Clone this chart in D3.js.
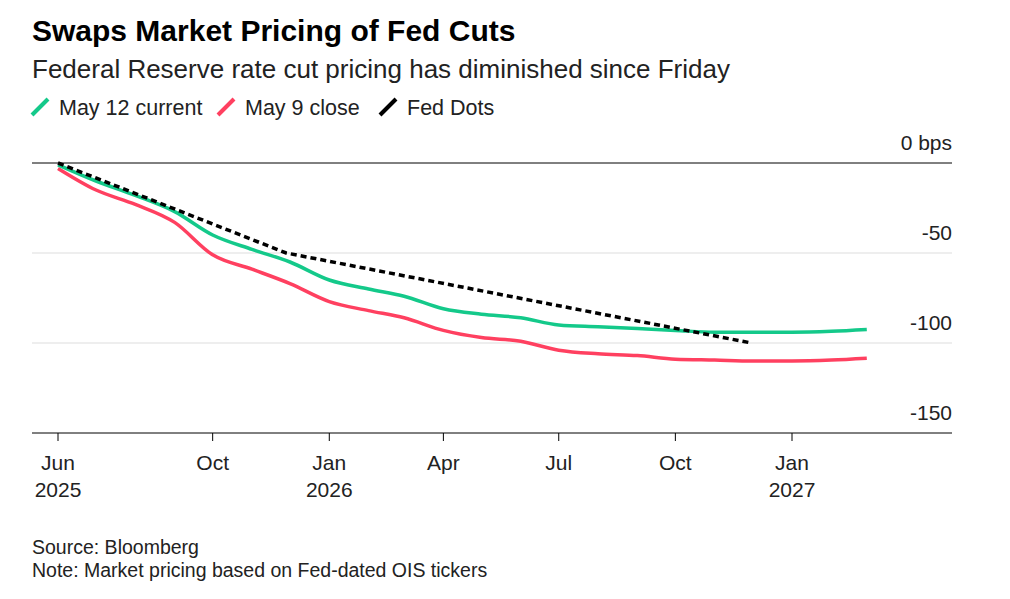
<html>
<head>
<script src="https://d3js.org/d3.v7.min.js"></script>
<style>
body { margin: 0; background: #fff; font-family: "Liberation Sans", Arial, sans-serif; }
text { font-family: "Liberation Sans", Arial, sans-serif; }
</style>
</head>
<body>
<svg width="1010" height="599"></svg>
<script>
const months = ['2025-06','2025-07','2025-08','2025-09','2025-10','2025-11','2025-12','2026-01','2026-02','2026-03','2026-04','2026-05','2026-06','2026-07','2026-08','2026-09','2026-10','2026-11','2026-12','2027-01','2027-02','2027-03'];
const current = [-1,-10,-18,-27,-40,-48,-55,-65,-70,-74,-81,-84,-86,-90,-91,-92,-93,-94,-94,-94,-93.5,-92.5];
const close9 = [-3,-15,-23,-33,-51,-59,-67,-77,-82,-86,-93,-97,-99,-104,-106,-107,-109,-109.5,-110,-110,-109.5,-108.5];
const dotDates = ['2025-06-01','2025-11-28','2026-11-30'];
const dotValues = [0,-50,-100];
const yTicks = [0,-50,-100,-150];
const xTicks = [['2025-06-01','Jun','2025'],['2025-10-01','Oct',''],['2026-01-01','Jan','2026'],['2026-04-01','Apr',''],['2026-07-01','Jul',''],['2026-10-01','Oct',''],['2027-01-01','Jan','2027']];

const svg = d3.select('svg');
const x = d3.scaleTime().domain([new Date('2025-06-01'), new Date('2027-01-01')]).range([58, 792]);
const y = d3.scaleLinear().domain([0, -150]).range([163, 433]);

svg.append('text').attr('x', 32).attr('y', 41).attr('font-size', 30).attr('font-weight', 'bold').text('Swaps Market Pricing of Fed Cuts');
svg.append('text').attr('x', 32).attr('y', 78).attr('font-size', 26).attr('fill', '#222').text('Federal Reserve rate cut pricing has diminished since Friday');

const legend = [['May 12 current', '#14c98a', 32], ['May 9 close', '#ff4060', 218], ['Fed Dots', '#000', 380]];
legend.forEach(([t, c, lx]) => {
  svg.append('line').attr('x1', lx).attr('y1', 115).attr('x2', lx + 16).attr('y2', 99).attr('stroke', c).attr('stroke-width', 4);
  svg.append('text').attr('x', lx + 27).attr('y', 115).attr('font-size', 21.5).attr('fill', '#222').text(t);
});

yTicks.forEach(v => {
  svg.append('line').attr('x1', 32).attr('x2', 952).attr('y1', y(v)).attr('y2', y(v))
    .attr('stroke', v === 0 || v === -150 ? '#000' : '#ddd').attr('stroke-width', 1);
  svg.append('text').attr('x', 952).attr('y', y(v) - 13).attr('text-anchor', 'end').attr('font-size', 21).attr('fill', '#222')
    .text(v === 0 ? '0 bps' : v);
});

xTicks.forEach(([d, m, yr]) => {
  const px = x(new Date(d));
  svg.append('line').attr('x1', px).attr('x2', px).attr('y1', 433).attr('y2', 441).attr('stroke', '#000');
  svg.append('text').attr('x', px).attr('y', 470).attr('text-anchor', 'middle').attr('font-size', 21).attr('fill', '#222').text(m);
  if (yr) svg.append('text').attr('x', px).attr('y', 497).attr('text-anchor', 'middle').attr('font-size', 21).attr('fill', '#222').text(yr);
});

const line = d3.line().x(d => x(d[0])).y(d => y(d[1])).curve(d3.curveMonotoneX);
const dm = months.map(m => new Date(m + '-01'));
svg.append('path').attr('d', line(dm.map((d, i) => [d, close9[i]]))).attr('fill', 'none').attr('stroke', '#ff4060').attr('stroke-width', 3.5);
svg.append('path').attr('d', line(dm.map((d, i) => [d, current[i]]))).attr('fill', 'none').attr('stroke', '#14c98a').attr('stroke-width', 3.5);
svg.append('path').attr('d', d3.line().x(d => x(d[0])).y(d => y(d[1]))(dotDates.map((d, i) => [new Date(d), dotValues[i]])))
  .attr('fill', 'none').attr('stroke', '#000').attr('stroke-width', 3.5).attr('stroke-dasharray', '6,4');

svg.append('text').attr('x', 32).attr('y', 554).attr('font-size', 19.5).attr('fill', '#222').text('Source: Bloomberg');
svg.append('text').attr('x', 32).attr('y', 577).attr('font-size', 19.5).attr('fill', '#222').text('Note: Market pricing based on Fed-dated OIS tickers');
</script>
</body>
</html>
